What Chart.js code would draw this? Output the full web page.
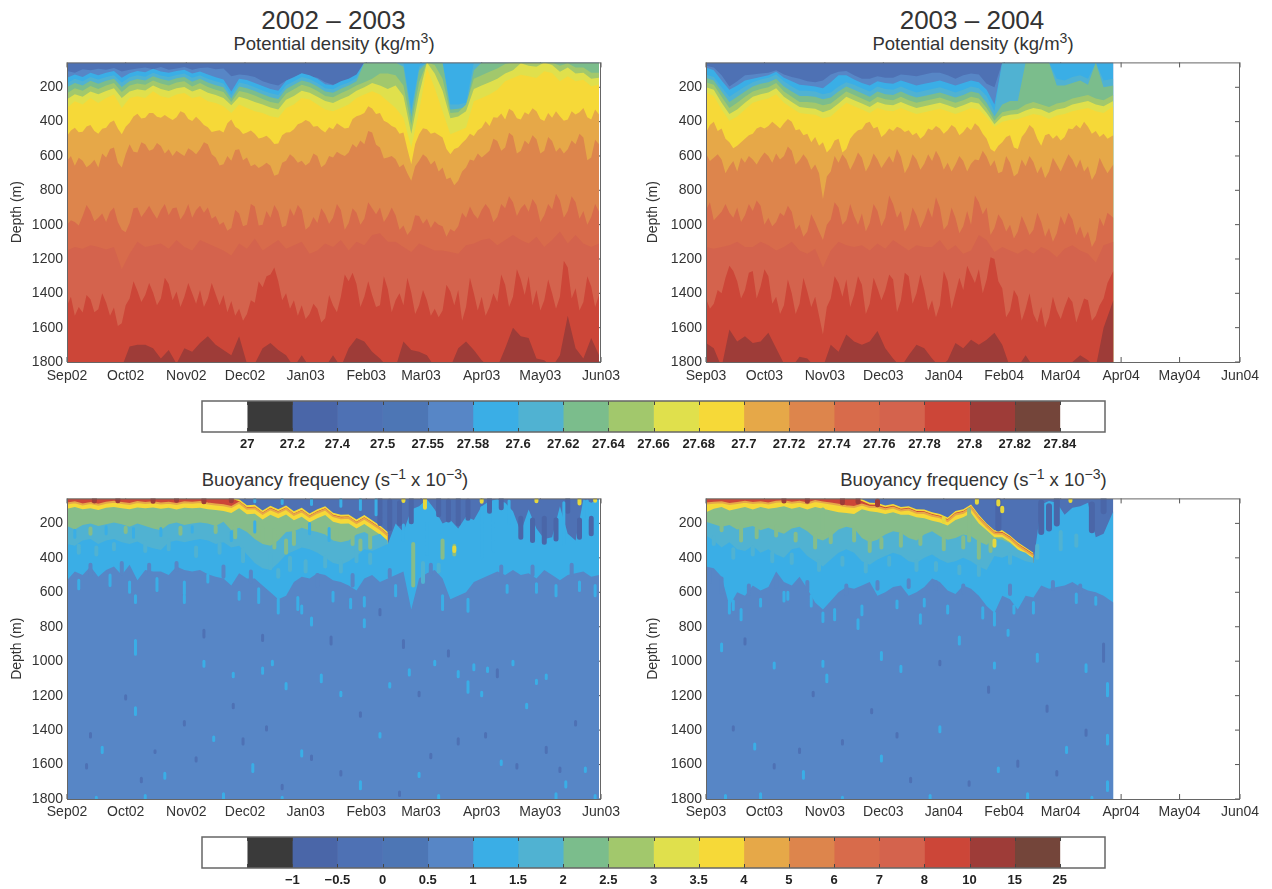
<!DOCTYPE html>
<html>
<head>
<meta charset="utf-8">
<title>Potential density and buoyancy frequency</title>
<script src="https://cdn.jsdelivr.net/npm/chart.js@4"></script>
<style>
    body { margin: 0; background: #fff; width: 1272px; height: 889px; overflow: hidden; position: relative; font-family: "Liberation Sans", Arial, sans-serif; color: #333; }
    canvas { position: absolute; }
    .label { position: absolute; transform: translateX(-50%); white-space: nowrap; line-height: 1; }
    .year { font-size: 26px; }
    .sub { font-size: 18.5px; }
    sup { font-size: 0.76em; line-height: 0; }
</style>
</head>
<body>
<div class="label year" style="left:333.5px;top:7px">2002 – 2003</div>
<div class="label sub" style="left:334px;top:35px">Potential density (kg/m<sup>3</sup>)</div>
<div class="label year" style="left:972px;top:7px">2003 – 2004</div>
<div class="label sub" style="left:973px;top:35px">Potential density (kg/m<sup>3</sup>)</div>
<div class="label sub" style="left:335px;top:471px">Buoyancy frequency (s<sup>−1</sup> x 10<sup>−3</sup>)</div>
<div class="label sub" style="left:973.5px;top:471px">Buoyancy frequency (s<sup>−1</sup> x 10<sup>−3</sup>)</div>
<canvas id="densLeft" width="636" height="345" style="left:0;top:50px"></canvas>
<canvas id="densRight" width="636" height="345" style="left:636px;top:50px"></canvas>
<canvas id="densBar" width="923" height="65" style="left:192px;top:395px"></canvas>
<canvas id="buoyLeft" width="636" height="346" style="left:0;top:486px"></canvas>
<canvas id="buoyRight" width="636" height="346" style="left:636px;top:486px"></canvas>
<canvas id="buoyBar" width="923" height="65" style="left:192px;top:831px"></canvas>
<script>
// Time axes (days since 1 Sep)
const days02 = [0,4,8,12,16,20,24,28,32,36,40,44,48,52,56,60,64,68,72,76,80,84,88,92,96,100,104,108,112,116,120,124,128,132,136,140,144,148,152,156,160,164,168,172,176,180,184,188,192,196,200,204,208,212,216,220,224,228,232,236,240,244,248,252,256,260,264,268,272];
const days03 = [0,4,8,12,16,20,24,28,32,36,40,44,48,52,56,60,64,68,72,76,80,84,88,92,96,100,104,108,112,116,120,124,128,132,136,140,144,148,152,156,160,164,168,172,176,180,184,188,192,196,200,204,209];
const fineDays02 = [0,2,4,6,8,10,12,14,16,18,20,22,24,26,28,30,32,34,36,38,40,42,44,46,48,50,52,54,56,58,60,62,64,66,68,70,72,74,76,78,80,82,84,86,88,90,92,94,96,98,100,102,104,106,108,110,112,114,116,118,120,122,124,126,128,130,132,134,136,138,140,142,144,146,148,150,152,154,156,158,160,162,164,166,168,170,172,174,176,178,180,182,184,186,188,190,192,194,196,198,200,202,204,206,208,210,212,214,216,218,220,222,224,226,228,230,232,234,236,238,240,242,244,246,248,250,252,254,256,258,260,262,264,266,268,270,272];
const fineDays03 = [0,2,4,6,8,10,12,14,16,18,20,22,24,26,28,30,32,34,36,38,40,42,44,46,48,50,52,54,56,58,60,62,64,66,68,70,72,74,76,78,80,82,84,86,88,90,92,94,96,98,100,102,104,106,108,110,112,114,116,118,120,122,124,126,128,130,132,134,136,138,140,142,144,146,148,150,152,154,156,158,160,162,164,166,168,170,172,174,176,178,180,182,184,186,188,190,192,194,196,198,200,202,204,206,209];
const monthDays02 = [0,30,61,91,122,153,181,212,242,273];
const monthDays03 = [0,30,61,91,122,153,182,213,243,274];
const monthLabels02 = ['Sep02','Oct02','Nov02','Dec02','Jan03','Feb03','Mar03','Apr03','May03','Jun03'];
const monthLabels03 = ['Sep03','Oct03','Nov03','Dec03','Jan04','Feb04','Mar04','Apr04','May04','Jun04'];
const depthTicks = [200,400,600,800,1000,1200,1400,1600,1800];

// Colour bars
const barColors = ['#ffffff','#3a3a3a','#4a66a8','#4e71b4','#4d76b5','#5786c6','#3aaee6','#50b2d2','#7bbd8c','#a2c86c','#e0e04c','#f6d938','#e6a848','#dd854c','#d86b4b','#d4634d','#cc4638','#9e3c38','#74453a','#ffffff'];
const densLevels = ['27','27.2','27.4','27.5','27.55','27.58','27.6','27.62','27.64','27.66','27.68','27.7','27.72','27.74','27.76','27.78','27.8','27.82','27.84'];
const buoyLevels = ['','−1','−0.5','0','0.5','1','1.5','2','2.5','3','3.5','4','5','6','7','8','10','15','25'];

// Depth (m) of each isopycnal, 2002-2003
const dens02a = [105,115,95,100,92,98,88,108,98,90,85,95,82,98,90,82,98,88,85,95,90,135,125,130,140,165,180,190,160,140,120,135,145,170,185,175,165,150,55,55,55,55,55,55,55,55,55,55,55,55,55,55,55,55,55,55,55,55,55,55,55,55,55,55,55,55,55,55,55];
const dens02b = [145,125,140,115,130,115,105,145,118,105,112,92,108,115,105,98,120,108,125,142,155,225,150,158,175,192,210,220,162,142,118,130,150,182,188,165,150,125,55,55,55,55,55,55,55,55,55,55,55,55,55,55,55,55,55,55,55,55,55,55,55,55,55,55,55,55,55,55,55];
const dens02c = [175,150,165,140,155,140,130,172,142,130,138,115,132,140,128,120,145,130,150,165,178,245,172,182,200,218,235,245,188,165,140,152,175,205,212,188,172,145,55,55,55,55,55,55,330,80,55,55,55,300,300,290,55,55,55,55,55,55,55,55,55,55,55,55,55,55,55,55,55];
const dens02d = [200,175,190,162,180,162,150,198,165,152,160,135,152,162,148,140,168,150,172,188,200,265,195,205,222,240,258,268,210,185,160,172,195,225,232,208,190,165,55,55,55,55,55,80,370,100,55,55,55,330,325,315,100,55,55,55,55,55,55,55,55,55,55,55,55,55,55,55,55];
const dens02e = [235,205,220,192,210,190,175,228,190,178,185,160,178,190,172,165,195,175,198,215,228,285,222,232,248,268,285,295,238,212,185,198,222,250,258,235,215,190,170,150,120,120,130,190,420,170,55,70,150,350,345,300,150,130,110,90,65,55,55,55,55,55,55,75,60,85,85,115,115];
const dens02f = [270,240,255,225,240,222,205,262,225,212,218,190,210,222,205,198,225,208,232,245,262,305,255,268,285,300,318,330,272,250,220,232,255,280,292,270,250,220,200,175,190,210,190,250,470,240,55,120,220,380,370,340,210,190,170,150,120,100,60,75,80,55,70,110,85,120,115,150,145];
const dens02g = [320,281,300,262,291,262,242,320,262,252,262,223,252,262,242,233,262,252,281,291,310,349,300,320,339,349,368,378,320,300,262,271,300,329,339,320,300,262,242,223,242,281,320,378,551,339,88,204,339,474,455,435,281,262,242,214,165,146,127,136,146,107,117,165,136,165,156,194,185];
const dens02h = [484,452,435,462,459,428,420,455,470,442,435,405,393,440,474,430,407,370,354,382,378,350,349,372,378,362,378,390,374,340,349,385,397,372,393,420,432,460,455,450,464,410,387,430,445,472,464,452,470,498,493,482,503,530,528,480,464,462,445,415,407,390,401,430,426,448,464,432,445,410,426,440,435,385,368,362,349,310,324,355,349,395,407,425,435,470,464,560,648,530,474,438,445,470,464,478,493,560,590,560,551,525,503,470,484,450,435,398,426,375,378,352,387,325,339,380,387,345,358,322,339,385,397,350,378,340,368,395,387,340,358,345,320,375,387,330,358];
const dens02i = [628,600,657,610,628,665,648,622,667,585,609,560,551,640,667,590,532,575,580,520,532,570,561,525,542,585,561,600,570,585,600,555,570,590,561,520,532,590,609,655,648,600,628,565,561,625,609,660,648,670,657,640,657,715,706,640,628,590,609,640,628,655,638,585,600,665,648,600,609,575,590,600,580,530,551,510,532,455,464,535,551,615,609,600,619,665,648,700,744,660,628,590,609,650,628,690,667,735,725,770,744,690,667,620,628,585,609,590,570,500,513,570,551,465,484,585,570,510,532,480,503,585,570,490,513,575,551,585,561,510,532,470,493,625,609,505,532];
const dens02j = [1000,975,985,1005,950,885,920,980,960,935,985,925,900,985,1030,1045,990,905,900,955,925,890,930,965,915,880,945,905,900,970,935,880,960,915,890,930,900,965,950,1000,985,1035,1020,915,935,1010,1000,880,895,1005,1000,920,960,885,925,1015,1005,905,950,885,915,1030,1010,955,990,905,940,995,960,880,915,1030,990,905,930,1000,965,870,905,940,900,985,950,900,945,1030,1005,1060,1030,945,950,995,965,1020,980,1000,1010,1070,1025,1040,1010,930,960,895,940,965,915,880,910,985,955,880,905,835,870,950,905,880,925,850,885,985,945,880,910,820,860,960,920,835,870,965,920,1000,955,880,925];
const dens02k = [1150,1130,1140,1120,1130,1145,1130,1260,1170,1100,1130,1120,1110,1140,1090,1130,1150,1090,1110,1130,1150,1180,1110,1140,1080,1150,1120,1090,1140,1120,1100,1170,1150,1110,1130,1090,1150,1100,1120,1060,1050,1100,1100,1130,1160,1110,1130,1150,1150,1160,1170,1120,1110,1090,1080,1120,1090,1060,1090,1110,1070,1130,1090,1040,1110,1060,1110,1130,1110];
const dens02l = [1473,1420,1530,1480,1512,1410,1435,1510,1493,1400,1454,1530,1483,1590,1575,1470,1430,1330,1385,1450,1410,1340,1395,1470,1430,1310,1345,1440,1390,1480,1420,1340,1400,1460,1380,1480,1430,1340,1405,1470,1410,1510,1445,1530,1490,1560,1520,1440,1455,1330,1365,1300,1290,1250,1330,1440,1400,1490,1440,1530,1470,1550,1520,1460,1490,1570,1545,1410,1470,1510,1420,1290,1330,1280,1345,1480,1420,1330,1410,1480,1470,1300,1375,1510,1440,1400,1470,1310,1395,1520,1470,1380,1440,1530,1490,1540,1500,1350,1390,1470,1380,1560,1480,1310,1400,1500,1420,1530,1480,1400,1450,1290,1350,1480,1420,1260,1320,1410,1300,1470,1380,1500,1440,1320,1400,1490,1420,1210,1250,1430,1370,1500,1450,1300,1360,1480,1410];
const dens02m = [1830,1830,1830,1830,1830,1830,1830,1830,1710,1700,1700,1720,1780,1730,1810,1720,1740,1690,1650,1700,1730,1760,1650,1810,1810,1720,1690,1730,1760,1830,1760,1830,1830,1830,1760,1830,1720,1660,1680,1740,1780,1830,1830,1680,1730,1740,1760,1830,1830,1830,1720,1680,1730,1790,1830,1830,1720,1600,1650,1660,1780,1790,1830,1760,1530,1720,1780,1660,1760];

// Depth (m) of each isopycnal, 2003-2004
const dens03a = [75,85,130,195,165,130,125,120,115,100,125,140,150,165,170,160,125,110,105,130,150,150,135,145,145,125,130,135,125,115,115,130,150,130,120,125,180,200,55,55,55,55,55,55,55,55,55,55,55,55,55,55,55];
const dens03b = [85,100,160,215,190,160,150,140,130,110,145,165,185,190,195,205,170,130,130,155,175,190,165,175,180,160,175,190,180,170,160,175,190,175,160,170,215,300,55,55,55,55,55,55,55,55,55,55,55,55,55,55,55];
const dens03c = [125,140,200,255,225,195,170,155,145,125,165,195,220,220,225,240,230,195,170,185,205,225,195,210,215,195,215,230,220,210,200,215,230,215,195,205,250,340,55,55,55,55,55,55,55,150,160,140,130,150,55,160,150];
const dens03d = [145,160,225,285,255,225,195,180,170,150,195,225,250,250,255,270,260,225,195,215,235,255,225,240,245,225,245,260,250,240,230,245,260,245,225,235,290,370,300,280,280,55,55,55,55,190,190,175,160,185,55,200,190];
const dens03e = [170,185,255,320,290,255,225,210,200,175,225,255,285,285,290,305,295,260,225,245,265,285,255,270,275,255,275,290,280,270,260,275,290,275,255,265,320,395,345,335,330,300,285,300,315,295,285,265,255,245,265,275,245];
const dens03f = [200,215,290,355,330,290,255,240,230,205,255,285,315,320,325,345,330,295,255,275,295,315,285,300,305,285,305,320,310,300,290,305,320,305,285,295,350,415,370,360,355,335,320,330,350,330,320,300,290,280,300,310,280];
const dens03g = [230,250,330,395,370,330,290,275,265,240,290,320,350,355,360,380,370,330,290,310,330,350,320,335,340,320,340,355,345,335,325,340,355,340,320,330,375,430,400,390,385,370,355,365,385,365,355,340,330,320,340,350,310];
const dens03h = [465,420,400,455,440,500,520,555,540,520,500,480,470,440,430,440,425,400,420,440,410,385,400,450,445,480,470,520,490,540,520,580,555,510,500,580,560,500,470,450,445,410,400,440,430,490,470,440,455,430,440,460,450,480,465,500,480,440,450,425,440,470,450,420,435,480,460,430,450,410,430,470,500,560,575,540,520,490,480,550,560,490,460,420,440,500,540,480,470,500,480,510,490,440,445,420,440,400,430,470,455,490,470,500,480];
const dens03i = [585,630,610,590,620,700,660,630,690,610,640,600,620,650,610,580,600,640,585,620,600,545,570,650,625,590,620,680,650,700,850,720,690,600,640,590,620,680,635,580,610,690,650,585,620,670,635,600,640,560,605,700,660,590,620,680,645,590,630,570,610,680,640,690,650,600,630,690,645,620,625,570,605,660,625,700,690,600,640,720,700,620,660,600,635,700,660,730,690,610,650,690,640,590,620,670,620,690,660,740,700,610,660,700,650];
const dens03j = [915,870,975,950,925,880,930,960,900,985,945,880,920,860,890,1000,960,1010,985,930,950,890,925,1030,1000,1070,1040,940,985,1040,1090,1000,970,870,900,1000,975,880,950,1000,935,1040,990,880,920,1010,960,830,880,960,920,1040,1000,900,945,1020,970,900,960,840,900,1030,1000,900,960,1050,1010,920,1000,830,870,940,900,1060,1020,940,975,1040,1000,1080,1040,950,1000,1060,1030,930,985,1070,1020,1100,1050,950,1000,930,970,1060,1010,1080,1040,1130,1090,960,1010,930,960];
const dens03k = [1130,1140,1130,1120,1100,1130,1130,1100,1120,1150,1130,1100,1150,1170,1140,1250,1150,1100,1120,1130,1120,1150,1110,1140,1090,1120,1150,1120,1130,1130,1090,1150,1120,1170,1150,1060,1090,1160,1130,1150,1170,1140,1170,1130,1150,1190,1140,1120,1150,1170,1220,1120,1100];
const dens03l = [1430,1490,1460,1380,1400,1310,1240,1270,1330,1430,1380,1280,1270,1430,1360,1260,1300,1460,1420,1520,1470,1320,1400,1520,1460,1310,1390,1480,1420,1530,1640,1480,1430,1300,1340,1420,1320,1480,1410,1300,1350,1520,1460,1310,1370,1440,1380,1290,1320,1510,1440,1280,1300,1460,1400,1290,1380,1500,1440,1540,1470,1270,1330,1490,1400,1310,1380,1240,1290,1340,1260,1400,1320,1190,1200,1330,1370,1540,1500,1380,1420,1560,1490,1400,1520,1570,1480,1600,1540,1420,1500,1550,1480,1420,1450,1570,1500,1430,1440,1560,1530,1470,1430,1340,1270];
const dens03m = [1690,1720,1830,1610,1680,1650,1690,1680,1630,1720,1810,1830,1770,1780,1830,1830,1700,1740,1640,1680,1700,1680,1620,1720,1780,1830,1760,1700,1720,1780,1830,1790,1690,1720,1670,1700,1670,1630,1700,1830,1830,1760,1830,1830,1830,1830,1830,1800,1760,1790,1830,1600,1440];

// Depth (m) of the buoyancy frequency contours, 2002-2003
const buoy02yellowTop = [55,55,55,55,55,55,55,55,55,55,55,55,55,55,55,55,55,55,55,55,55,55,60,95,92,125,98,118,96,130,110,142,118,100,138,150,148,178,152,182,212,250];
const buoy02red = [55,55,55,55,55,55,55,55,55,55,55,55,55,55,55,55,55,55,55,55,55,55,72,107,104,137,110,130,108,142,122,154,130,112,150,162,160,190,164,194,224,262];
const buoy02yellow = [85,78,90,82,92,80,75,82,88,76,82,78,85,80,88,78,80,76,85,90,95,105,80,115,112,145,118,138,116,150,130,162,138,120,158,170,168,198,172,202,232,270];
const buoy02green = [115,105,118,112,122,110,105,112,118,108,112,108,115,110,120,110,112,110,118,122,128,140,112,147,144,177,150,170,148,182,162,194,170,152,190,202,200,230,204,234,264,300];
const buoy02teal = [215,235,210,200,215,205,195,205,220,200,215,230,240,205,195,210,200,195,200,215,190,240,225,250,290,320,330,300,250,245,225,240,250,265,300,310,300,265,250,275,260,305];
const buoy02light = [320,330,300,290,320,300,290,310,320,305,330,345,355,310,300,310,300,290,300,320,310,340,330,380,430,460,470,430,380,360,340,350,370,400,430,440,420,390,350,360,340,320,200,250,120,100,60,120,200,180,230,160,180,100,70,60,80,130,250,120,230,290,280,100,260,300,60,80,60];
const buoy02blue = [530,480,500,450,510,470,450,500,440,530,470,480,480,500,450,470,480,470,495,510,520,560,490,520,520,560,600,640,620,540,510,520,490,500,530,540,560,590,520,500,540,520,500,480,700,520,490,470,520,640,620,600,540,520,500,480,500,470,500,490,520,470,500,530,500,490,480,510,500];

// Depth (m) of the buoyancy frequency contours, 2003-2004
const buoy03yellowTop = [55,55,55,55,55,55,55,55,55,55,55,55,55,55,55,55,55,55,55,55,60,80,82,96,88,105,100,118,120,136,145,166,128,118,90,150,200,240,240,270,310,340,370];
const buoy03red = [55,55,55,55,55,55,55,55,55,55,55,55,55,55,55,55,55,55,55,55,70,90,92,106,98,115,110,128,130,146,155,176,138,128,100,160,208,248,250,278,318,348,378];
const buoy03yellow = [85,80,78,88,82,75,82,78,85,75,72,80,75,85,70,78,85,92,100,105,90,105,105,118,108,125,120,138,140,156,165,186,148,138,110,170,218,258,260,288,328,358,388];
const buoy03green = [135,115,105,125,115,105,120,105,115,110,100,115,105,120,105,115,125,135,140,145,118,130,135,145,135,150,150,165,170,185,195,212,180,165,140,200,240,280,280,310,350,380,400];
const buoy03teal = [190,205,220,210,235,225,215,240,225,245,260,230,220,245,285,300,275,235,220,230,285,310,295,265,245,255,285,300,265,245,275,295,285,265,275,305,325,285,295,315,355,370,405];
const buoy03light = [270,300,340,310,350,360,330,370,350,380,400,350,340,390,420,450,410,370,350,370,420,440,410,390,370,385,420,430,400,380,410,430,420,400,420,450,470,390,400,380,400,420,430,90,70,80,150,110,100,80,280,260,130];
const buoy03blue = [450,460,510,680,600,620,560,590,570,480,540,560,510,580,660,700,650,600,570,580,560,540,620,600,570,560,620,600,570,520,540,590,610,560,580,620,680,720,620,640,700,620,630,560,580,570,560,540,570,590,600,620,660];

// Small patches in the buoyancy frequency field: [day, top depth, bottom depth]
const patches02Light = [[35,620,660],[35,880,960],[35,1270,1310],[60,620,660],[100,1040,1070],[105,1000,1020],[130,1080,1120],[140,1180,1200],[70,1000,1030],[175,1050,1080],[165,1130,1150],[200,1060,1090],[205,1120,1180],[208,1020,1050],[212,1180,1200],[228,1000,1020],[240,1110,1130],[245,1080,1100],[18,1500,1530],[50,1650,1680],[95,1600,1640],[120,1520,1550],[150,1700,1740],[180,1650,1670],[222,1580,1600],[255,1700,1730],[265,1620,1640],[15,1790,1800],[40,1780,1800],[80,1770,1800],[110,1790,1800],[190,1780,1800],[250,1770,1800],[270,1780,1800],[145,640,690],[152,760,800],[120,680,720],[125,750,790],[250,560,620],[85,1070,1090],[112,1130,1160],[188,1000,1020],[215,1040,1060],[235,1250,1270],[75,1440,1460],[160,1420,1440],[6,530,580],[22,500,560],[32,540,600],[46,520,590],[60,540,610],[72,500,540],[88,600,640],[98,580,660],[108,640,720],[118,630,700],[136,600,650],[152,630,680],[168,560,620],[192,620,700],[205,640,710],[225,560,600],[240,550,600],[262,540,590],[270,560,620],[172,210,300],[184,200,380],[212,110,400],[218,120,360],[226,70,200],[254,80,320],[266,70,170],[96,60,75],[110,60,85],[125,60,90],[140,60,100],[150,60,120],[158,60,150],[4,240,280],[20,220,260],[34,230,280],[48,230,270],[64,220,250],[84,250,300],[96,190,250],[124,200,260],[134,230,300]];
const patches02Dark = [[70,820,860],[100,850,880],[135,860,900],[160,700,730],[172,880,920],[195,940,970],[220,1050,1090],[30,1200,1220],[60,1350,1370],[90,1450,1480],[125,1550,1570],[150,1300,1320],[200,1450,1480],[230,1600,1620],[260,1350,1370],[10,1600,1620],[45,1520,1530],[110,1720,1740],[170,1760,1780],[85,1250,1270],[180,1180,1200],[245,1500,1530],[12,1420,1440],[38,1680,1700],[66,1560,1580],[102,1380,1400],[140,1640,1660],[186,1540,1560],[214,1420,1440],[252,1620,1640]];
const patches02Mid = [[12,440,500],[28,430,490],[42,440,490],[56,430,470],[80,450,510],[94,480,540],[128,500,560],[146,500,560],[165,470,510],[186,440,490],[222,450,500],[238,450,500],[258,440,500]];
const patches02Teal = [[6,330,370],[15,340,380],[24,320,350],[40,310,360],[52,300,350],[66,340,390],[78,320,370],[90,350,420],[104,380,460],[108,470,510],[114,400,470],[122,420,480],[132,400,450],[140,420,480],[148,360,420],[155,380,430],[182,430,540],[190,440,480]];
const patches02Green = [[100,230,300],[106,240,340],[112,300,370],[116,250,320],[138,240,280],[146,250,320],[150,300,350],[155,260,340],[12,230,260],[30,225,250],[58,225,260],[76,220,250],[86,220,280],[177,320,560],[192,300,400],[198,330,380]];
const patches02Yellow = [[183,60,110],[172,55,70],[198,340,360],[212,60,75],[240,60,72],[262,60,85],[270,60,68]];
const patches02DarkRed = [[14,55,70],[26,55,68],[44,55,72],[56,55,66],[70,55,74],[84,55,68]];
const patches02DarkBlue = [[160,60,200],[165,70,230],[170,80,200],[176,60,190],[190,60,150],[195,70,180],[200,60,200],[205,70,170],[232,170,280],[238,180,300],[244,170,310],[250,180,290],[262,180,280],[268,170,260],[216,60,130],[222,60,110],[256,60,130]];
const patches03Light = [[14,650,700],[40,600,650],[8,900,940],[35,1010,1040],[60,1000,1030],[62,1080,1120],[90,950,990],[100,1030,1060],[130,860,900],[148,1010,1040],[170,960,1000],[195,1020,1060],[206,1130,1200],[206,1430,1480],[206,1700,1750],[25,1480,1510],[50,1640,1680],[90,1550,1580],[120,1380,1410],[150,1620,1640],[185,1500,1530],[10,1780,1800],[28,1770,1800],[70,1790,1800],[115,1780,1800],[165,1770,1800],[198,1790,1800],[78,760,810],[110,730,780],[155,820,850],[12,650,720],[18,700,760],[28,640,680],[42,600,640],[54,620,680],[60,720,770],[66,700,760],[80,680,730],[98,650,690],[112,640,680],[124,680,720],[142,690,750],[148,720,790],[158,680,720],[168,660,720],[190,610,660],[200,630,670]];
const patches03Dark = [[20,870,900],[55,1180,1200],[85,1280,1300],[120,1000,1020],[145,1150,1180],[175,1260,1290],[195,1400,1430],[35,1600,1620],[70,1460,1480],[105,1680,1700],[160,1580,1610],[204,900,1000],[14,1380,1400],[48,1510,1530],[98,1420,1440],[135,1700,1720],[180,1640,1660]];
const patches03Mid = [[2,470,540],[8,520,600],[22,560,610],[36,520,570],[52,540,590],[72,560,610],[88,540,580],[104,530,570],[118,540,580],[132,560,600],[156,560,610],[178,540,580],[192,560,600]];
const patches03DarkBlue = [[150,70,230],[198,90,240],[204,55,130],[172,80,250],[176,100,230],[180,60,200]];
const patches03Teal = [[4,280,320],[14,350,400],[24,340,380],[34,370,420],[44,380,430],[58,420,470],[70,400,440],[82,430,480],[94,400,440],[108,420,470],[118,430,470],[130,450,490],[140,450,500],[156,380,430],[170,330,400],[182,250,350],[190,270,330]];
const patches03Green = [[8,200,240],[18,220,300],[26,230,280],[36,220,270],[46,260,300],[56,270,340],[64,250,310],[76,230,300],[84,300,360],[90,290,340],[100,260,330],[110,260,320],[122,270,350],[132,280,340],[140,300,400],[146,300,360],[135,120,300],[60,120,250]];
const patches03Yellow = [[139,60,80],[150,70,90],[152,110,130],[148,300,330],[187,60,70],[122,170,190]];
const patches03DarkRed = [[40,55,70],[52,55,72],[70,55,80],[78,55,74],[88,70,92]];

const surfaceDepth = 55;
const bottomDepth = 1800;

// Draw the axis box, with inward ticks underneath the filled contours
const boxPlugin = {
    id: 'box',
    beforeDatasetsDraw(chart) {
        const { ctx, chartArea: a, scales } = chart;
        ctx.save();
        ctx.strokeStyle = '#555';
        ctx.lineWidth = 1;
        ctx.beginPath();
        scales.x.ticks.forEach(t => {
            const px = scales.x.getPixelForValue(t.value);
            ctx.moveTo(px, a.top);
            ctx.lineTo(px, a.top + 5);
            ctx.moveTo(px, a.bottom);
            ctx.lineTo(px, a.bottom - 5);
        });
        scales.y.ticks.forEach(t => {
            const py = scales.y.getPixelForValue(t.value);
            ctx.moveTo(a.right, py);
            ctx.lineTo(a.right - 5, py);
        });
        ctx.stroke();
        ctx.restore();
    },
    afterDatasetsDraw(chart) {
        const { ctx, chartArea: a } = chart;
        ctx.save();
        ctx.strokeStyle = '#666';
        ctx.lineWidth = 1;
        ctx.strokeRect(a.left + 0.5, a.top + 0.5, a.right - a.left - 1, a.bottom - a.top);
        ctx.restore();
    }
};

function contourDataset(values, days, color) {
    return {
        data: values.map((v, i) => ({ x: days[i], y: v })),
        borderWidth: 0,
        pointRadius: 0,
        tension: 0,
        backgroundColor: color,
        fill: { value: bottomDepth }
    };
}

function patchDataset(patches, color, width) {
    const data = [];
    patches.forEach(p => {
        data.push({ x: p[0], y: p[1] }, { x: p[0], y: p[2] }, { x: p[0], y: null });
    });
    return {
        data: data,
        borderColor: color,
        borderWidth: width,
        borderCapStyle: 'round',
        pointRadius: 0,
        fill: false
    };
}

function createPanel(id, contours, patches, monthDays, monthLabels, plotLeft, plotRight, labelGap) {
    // first dataset is painted last, so patches first and the contours deepest first
    const datasets = patches.concat(contours.slice().reverse());
    new Chart(document.getElementById(id), {
        type: 'line',
        data: { datasets: datasets },
        plugins: [boxPlugin],
        options: {
            responsive: false,
            animation: false,
            layout: { padding: { top: 11, right: plotRight, left: 0, bottom: 0 } },
            plugins: { legend: { display: false }, tooltip: { enabled: false } },
            scales: {
                x: {
                    type: 'linear',
                    min: 0,
                    max: monthDays[monthDays.length - 1],
                    afterBuildTicks: s => { s.ticks = monthDays.map(v => ({ value: v })); },
                    afterFit: s => { s.height = 33; },
                    grid: { display: false, drawTicks: false },
                    border: { display: false },
                    ticks: {
                        autoSkip: false,
                        maxRotation: 0,
                        padding: labelGap,
                        color: '#333',
                        font: { family: 'Liberation Sans', size: 14 },
                        callback: (v, i) => monthLabels[i]
                    }
                },
                y: {
                    reverse: true,
                    min: surfaceDepth,
                    max: bottomDepth,
                    afterBuildTicks: s => { s.ticks = depthTicks.map(v => ({ value: v })); },
                    afterFit: s => { s.width = plotLeft; },
                    grid: { display: false, drawTicks: false },
                    border: { display: false },
                    title: {
                        display: true,
                        text: 'Depth (m)',
                        color: '#333',
                        padding: { top: 9, bottom: 0 },
                        font: { family: 'Liberation Sans', size: 14 }
                    },
                    ticks: {
                        autoSkip: false,
                        padding: 4,
                        color: '#333',
                        font: { family: 'Liberation Sans', size: 14 },
                        callback: v => v
                    }
                }
            }
        }
    });
}

function createColorBar(id, levels) {
    const tickPlugin = {
        id: 'barTicks',
        afterDatasetsDraw(chart) {
            const { ctx, chartArea: a, scales } = chart;
            ctx.save();
            ctx.strokeStyle = '#444';
            ctx.lineWidth = 1;
            ctx.beginPath();
            for (let i = 1; i < barColors.length; i++) {
                const px = Math.round(scales.x.getPixelForValue(i)) + 0.5;
                ctx.moveTo(px, a.top);
                ctx.lineTo(px, a.top + 4);
                ctx.moveTo(px, a.bottom);
                ctx.lineTo(px, a.bottom - 4);
            }
            ctx.stroke();
            ctx.strokeStyle = '#666';
            ctx.lineWidth = 1.5;
            ctx.strokeRect(a.left, a.top, a.right - a.left, a.bottom - a.top);
            ctx.restore();
        }
    };
    new Chart(document.getElementById(id), {
        type: 'bar',
        data: {
            labels: [''],
            datasets: barColors.map(c => ({ data: [1], backgroundColor: c, barPercentage: 1, categoryPercentage: 1 }))
        },
        plugins: [tickPlugin],
        options: {
            indexAxis: 'y',
            responsive: false,
            animation: false,
            layout: { padding: { left: 10, right: 10, top: 6, bottom: 0 } },
            plugins: { legend: { display: false }, tooltip: { enabled: false } },
            scales: {
                y: { stacked: true, display: false },
                x: {
                    stacked: true,
                    min: 0,
                    max: barColors.length,
                    afterFit: s => { s.height = 28; },
                    grid: { display: false, drawTicks: false },
                    border: { display: false },
                    ticks: {
                        stepSize: 1,
                        autoSkip: false,
                        maxRotation: 0,
                        padding: 5,
                        color: '#222',
                        font: { family: 'Liberation Sans', size: 13, weight: 'bold' },
                        callback: v => levels[v - 1] || ''
                    }
                }
            }
        }
    });
}

// series: [values, days] pairs ordered from the surface downwards
function densityContours(days, series) {
    const colors = ['#4e71b4','#5786c6','#3aaee6','#50b2d2','#7bbd8c','#a2c86c','#e0e04c','#f6d938','#e6a848','#dd854c','#d86b4b','#d4634d','#cc4638','#9e3c38'];
    const all = [[days.map(() => surfaceDepth), days]].concat(series);
    return all.map((s, i) => contourDataset(s[0], s[1], colors[i]));
}

function buoyContours(days, b) {
    const contours = [
        contourDataset(days.map(() => surfaceDepth), days, '#4e71b4'),
        contourDataset(b.yellowTop, days, '#f6d938'),
        contourDataset(b.red, days, '#cc4638'),
        contourDataset(b.yellow, days, '#f6d938'),
        contourDataset(b.green, days, '#86bd8a'),
        contourDataset(b.teal, days, '#50b2d2'),
        contourDataset(b.light, days, '#3aaee6'),
        contourDataset(b.blue, days, '#5786c6')
    ];
    contours[3].borderWidth = 2;
    contours[3].borderColor = '#e6a848';
    return contours;
}

createPanel('densLeft',
    densityContours(days02, [[dens02a,days02],[dens02b,days02],[dens02c,days02],[dens02d,days02],[dens02e,days02],[dens02f,days02],[dens02g,days02],[dens02h,fineDays02],[dens02i,fineDays02],[dens02j,fineDays02],[dens02k,days02],[dens02l,fineDays02],[dens02m,days02]]),
    [], monthDays02, monthLabels02, 67, 35, 6);
createPanel('densRight',
    densityContours(days03, [[dens03a,days03],[dens03b,days03],[dens03c,days03],[dens03d,days03],[dens03e,days03],[dens03f,days03],[dens03g,days03],[dens03h,fineDays03],[dens03i,fineDays03],[dens03j,fineDays03],[dens03k,days03],[dens03l,fineDays03],[dens03m,days03]]),
    [], monthDays03, monthLabels03, 70, 32, 6);
createPanel('buoyLeft',
    buoyContours(days02, { yellowTop: buoy02yellowTop, red: buoy02red, yellow: buoy02yellow, green: buoy02green, teal: buoy02teal, light: buoy02light, blue: buoy02blue }),
    [patchDataset(patches02DarkRed, '#9e3c38', 5), patchDataset(patches02Yellow, '#e6d83c', 4), patchDataset(patches02Light, '#3aaee6', 3), patchDataset(patches02Mid, '#5786c6', 4), patchDataset(patches02Dark, '#4e71b4', 3), patchDataset(patches02Green, '#86bd8a', 4), patchDataset(patches02Teal, '#50b2d2', 4), patchDataset(patches02DarkBlue, '#4a66a8', 5)],
    monthDays02, monthLabels02, 67, 35, 5);
createPanel('buoyRight',
    buoyContours(days03, { yellowTop: buoy03yellowTop, red: buoy03red, yellow: buoy03yellow, green: buoy03green, teal: buoy03teal, light: buoy03light, blue: buoy03blue }),
    [patchDataset(patches03DarkRed, '#9e3c38', 5), patchDataset(patches03Yellow, '#e6d83c', 4), patchDataset(patches03Light, '#3aaee6', 3), patchDataset(patches03Mid, '#5786c6', 4), patchDataset(patches03Dark, '#4e71b4', 3), patchDataset(patches03Green, '#86bd8a', 4), patchDataset(patches03Teal, '#50b2d2', 4), patchDataset(patches03DarkBlue, '#4a66a8', 6)],
    monthDays03, monthLabels03, 70, 32, 5);
createColorBar('densBar', densLevels);
createColorBar('buoyBar', buoyLevels);
</script>
</body>
</html>
